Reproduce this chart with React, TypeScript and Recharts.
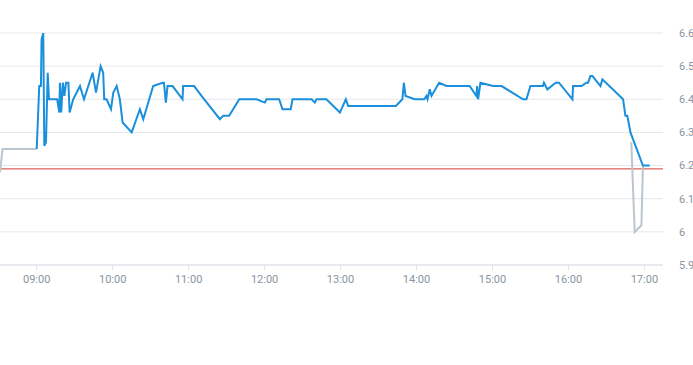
import * as React from 'react';
import { LineChart, Line, XAxis, YAxis, CartesianGrid, ReferenceLine } from 'recharts';

// intraday price, regular session (blue)
const sessionTimes = [
  '09:00:00', '09:02:00', '09:03:20', '09:03:50', '09:05:10', '09:06:00', '09:07:20', '09:08:40',
  '09:09:40', '09:16:10', '09:17:50', '09:18:20', '09:19:20', '09:20:40', '09:21:50', '09:23:10',
  '09:25:00', '09:26:00', '09:28:50', '09:34:10', '09:37:20', '09:44:10', '09:46:50', '09:50:30',
  '09:52:30', '09:53:20', '09:55:10', '09:58:40', '10:00:30', '10:03:10', '10:05:40', '10:07:50',
  '10:15:00', '10:21:30', '10:24:10', '10:32:00', '10:39:30', '10:40:30', '10:42:00', '10:43:20',
  '10:47:20', '10:55:10', '10:55:40', '11:04:20', '11:10:10', '11:24:40', '11:27:20', '11:32:00',
  '11:40:00', '11:53:40', '12:00:10', '12:01:30', '12:11:30', '12:14:10', '12:20:40', '12:22:00',
  '12:37:10', '12:39:40', '12:41:00', '12:48:50', '12:59:30', '13:04:10', '13:06:00', '13:43:40',
  '13:48:50', '13:50:00', '13:51:20', '13:58:40', '14:06:00', '14:07:50', '14:08:40', '14:10:30',
  '14:11:50', '14:17:50', '14:23:40', '14:42:00', '14:47:20', '14:47:50', '14:48:40', '14:50:30',
  '15:00:30', '15:07:10', '15:24:10', '15:26:50', '15:30:00', '15:39:50', '15:40:40', '15:43:20',
  '15:50:00', '15:52:30', '16:03:10', '16:03:40', '16:10:20', '16:14:10', '16:15:30', '16:17:20',
  '16:19:00', '16:25:20', '16:26:50', '16:43:10', '16:45:00', '16:46:30', '16:49:00', '16:58:50',
  '17:04:10',
];
const sessionPrices = [
  6.25, 6.44, 6.44, 6.58, 6.6, 6.26, 6.27, 6.48,
  6.4, 6.4, 6.36, 6.45, 6.36, 6.45, 6.41, 6.45,
  6.45, 6.36, 6.4, 6.44, 6.4, 6.48, 6.42, 6.5,
  6.48, 6.4, 6.4, 6.37, 6.42, 6.44, 6.4, 6.33,
  6.3, 6.37, 6.34, 6.44, 6.45, 6.45, 6.39, 6.44,
  6.44, 6.4, 6.44, 6.44, 6.41, 6.34, 6.35, 6.35,
  6.4, 6.4, 6.39, 6.4, 6.4, 6.37, 6.37, 6.4,
  6.4, 6.39, 6.4, 6.4, 6.36, 6.4, 6.38, 6.38,
  6.4, 6.45, 6.41, 6.4, 6.4, 6.41, 6.4, 6.43,
  6.41, 6.45, 6.44, 6.44, 6.41, 6.44, 6.4, 6.45,
  6.44, 6.44, 6.4, 6.4, 6.44, 6.44, 6.45, 6.43,
  6.45, 6.45, 6.4, 6.44, 6.44, 6.45, 6.45, 6.47,
  6.47, 6.44, 6.46, 6.4, 6.35, 6.35, 6.3, 6.2,
  6.2,
];

// pre-open and closing auction (grey)
const preTimes = ['08:31:00', '08:33:00', '09:00:00'];
const prePrices = [6.18, 6.25, 6.25];
const auctionTimes = ['16:49:40', '16:52:20', '16:57:40', '16:58:50'];
const auctionPrices = [6.27, 6.0, 6.02, 6.2];

const prevClose = 6.19;
const hourTicks = ['09:00', '10:00', '11:00', '12:00', '13:00', '14:00', '15:00', '16:00', '17:00'];
const priceTicks = [5.9, 6.0, 6.1, 6.2, 6.3, 6.4, 6.5, 6.6];

const toMin = (s: string) => {
  const [h, m, sec] = s.split(':').map(Number);
  return h * 60 + m + (sec || 0) / 60;
};
const fmtTime = (v: number) => {
  const h = Math.floor(v / 60);
  const m = Math.round(v % 60);
  return `${String(h).padStart(2, '0')}:${String(m).padStart(2, '0')}`;
};

const toRows = (times: string[], prices: number[]) =>
  times.map((t, i) => ({ t: toMin(t), price: prices[i] }));

const session = toRows(sessionTimes, sessionPrices);
const preRows = toRows(preTimes, prePrices);
const auctionRows = toRows(auctionTimes, auctionPrices);

const tickStyle = { fill: '#8a95a1', fontSize: 11, fontFamily: 'Roboto, sans-serif' };

export default function App() {
  return (
    <div style={{ position: 'absolute', left: 0, top: 0, width: 693, height: 365, background: '#fff' }}>
      <LineChart width={693} height={365} margin={{ top: 33, right: 0, left: 0, bottom: 70 }}>
        <CartesianGrid vertical={false} stroke="#e4e7eb" />
        <XAxis
          type="number"
          dataKey="t"
          domain={[511, 1034.7]}
          ticks={hourTicks.map(toMin)}
          tickFormatter={fmtTime}
          stroke="#dde1e6"
          tick={tickStyle}
          tickSize={5}
          tickMargin={5}
          height={30}
          allowDataOverflow
        />
        <YAxis
          orientation="right"
          domain={[5.9, 6.6]}
          ticks={priceTicks}
          tickFormatter={(v: number) => String(Math.round(v * 10) / 10)}
          axisLine={false}
          tickLine={false}
          tick={tickStyle}
          tickSize={0}
          tickMargin={16}
          width={30}
          allowDataOverflow
        />
        <ReferenceLine y={prevClose} stroke="#d63a35" strokeWidth={1} />
        <Line
          data={preRows}
          dataKey="price"
          type="linear"
          stroke="#bcc6ce"
          strokeWidth={2}
          dot={false}
          isAnimationActive={false}
        />
        <Line
          data={auctionRows}
          dataKey="price"
          type="linear"
          stroke="#bcc6ce"
          strokeWidth={2}
          dot={false}
          isAnimationActive={false}
        />
        <Line
          data={session}
          dataKey="price"
          type="linear"
          stroke="#1a8fdc"
          strokeWidth={2}
          dot={false}
          isAnimationActive={false}
        />
      </LineChart>
    </div>
  );
}
